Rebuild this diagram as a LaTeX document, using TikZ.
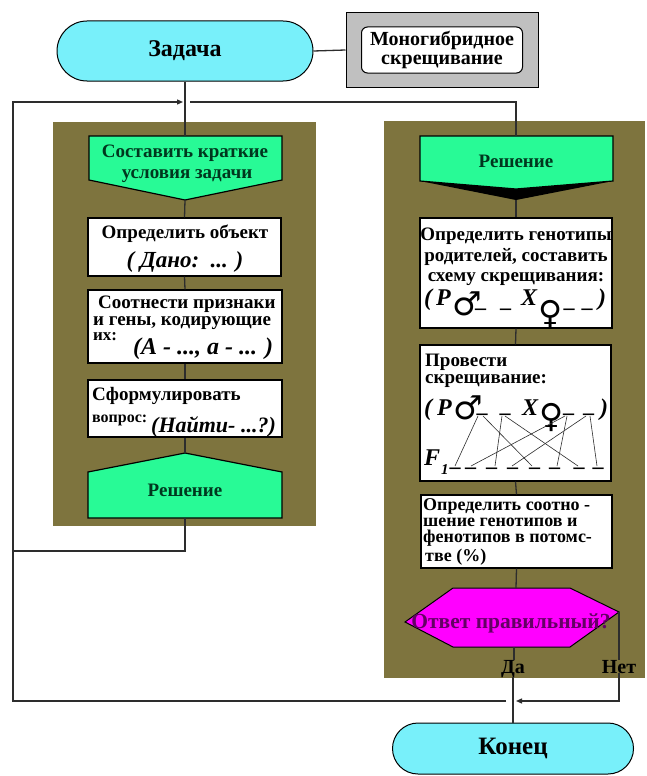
\documentclass[tikz,border=0pt]{standalone}
\usepackage{fontspec}
\setmainfont{Liberation Serif}
\newfontfamily\symfont{DejaVu Sans}
\usetikzlibrary{arrows.meta,shapes.misc}
\definecolor{olivebg}{RGB}{126,116,62}
\definecolor{mint}{RGB}{40,250,150}
\definecolor{cyanfill}{RGB}{120,240,250}
\definecolor{greybox}{RGB}{192,192,192}
\definecolor{lineclr}{RGB}{45,45,45}
\definecolor{dkgreen}{RGB}{0,55,30}
\definecolor{dkpurple}{RGB}{100,0,100}
\definecolor{magentafill}{RGB}{255,0,255}
\tikzset{
 conn/.style={draw=lineclr, line width=1.3pt},
 arr/.style={conn, -{Triangle[length=6pt,width=5pt]}},
 term/.style={rounded rectangle, draw=black, line width=1pt, fill=cyanfill, inner sep=0pt},
 wbox/.style={draw=black, line width=1.2pt, fill=white, inner sep=0pt},
 gshape/.style={draw=black, line width=1.2pt, fill=mint},
 panel/.style={fill=olivebg, inner sep=0pt},
 txt/.style={anchor=base, inner sep=0pt, font=\fontsize{19}{19}\selectfont\bfseries},
 ltxt/.style={anchor=base west, inner sep=0pt, font=\fontsize{19}{19}\selectfont\bfseries},
 ctxt/.style={anchor=base west, inner sep=0pt, font=\fontsize{18}{18}\selectfont\bfseries},
 itx/.style={anchor=base west, inner sep=0pt, font=\fontsize{24}{24}\selectfont\bfseries\itshape},
 sym/.style={anchor=center, inner sep=0pt, font=\symfont\fontsize{33}{33}\selectfont},
 dsh/.style={anchor=base, inner sep=0pt, font=\fontsize{22}{22}\selectfont\bfseries},
 cross/.style={draw=lineclr, line width=0.6pt},
}
\begin{document}
\begin{tikzpicture}[x=1pt,y=-1pt]
\useasboundingbox (0,0) rectangle (646,776);
\fill[white] (0,0) rectangle (646,776);

% panels
\node[panel, minimum width=263pt, minimum height=404pt] (panL) at (184.5,324) {};
\node[panel, minimum width=261pt, minimum height=557pt] (panR) at (514.5,399.5) {};

% start and title
\node[term, minimum width=256pt, minimum height=60pt, font=\fontsize{24}{24}\selectfont\bfseries] (start) at (185,51) {Задача};
\node[draw=black, line width=1pt, fill=greybox, minimum width=192pt, minimum height=74pt] (grey) at (442,50) {};
\node[draw=black, line width=1pt, fill=white, rounded corners=6pt, minimum width=161pt, minimum height=46pt, inner sep=0pt, align=center, font=\fontsize{20}{19}\selectfont\bfseries] (mono) at (442,50) {Моногибридное\\скрещивание};
\draw[conn] (start.east) -- (grey.west);

% left column
\coordinate (condT) at (185,136);
\coordinate (condB) at (185,200);
\filldraw[gshape] (89,136) -- (282,136) -- (282,180) -- (condB) -- (89,180) -- cycle;
\node[txt, text=dkgreen] (cond1) at (185,157) {Составить краткие};
\node[txt, text=dkgreen] (cond2) at (187,178) {условия задачи};

\node[wbox, minimum width=193pt, minimum height=58pt] (b1) at (184.5,247) {};
\node[txt] (b1a) at (185,238) {Определить объект};
\node[txt, font=\fontsize{23}{23}\selectfont\bfseries\itshape] (b1b) at (185,267) {( Дано:\ \ ... )};

\node[wbox, minimum width=194pt, minimum height=73pt] (b2) at (185,326.5) {};
\node[ltxt] (b2a) at (98,308) {Соотнести признаки};
\node[ltxt] (b2b) at (93,325) {и гены, кодирующие};
\node[ltxt, font=\fontsize{17}{17}\selectfont\bfseries] (b2c) at (93,340) {их:};
\node[itx, font=\fontsize{24}{24}\selectfont\bfseries\itshape] (b2d) at (133,354) {(A - ..., a - ... )};

\node[wbox, minimum width=194pt, minimum height=57pt] (b3) at (185,408.5) {};
\node[ltxt] (b3a) at (92,400) {Сформулировать};
\node[ltxt, font=\fontsize{16}{16}\selectfont\bfseries] (b3b) at (92,422) {вопрос:};
\node[itx, font=\fontsize{22}{22}\selectfont\bfseries\itshape] (b3c) at (151,432) {(Найти- ...?)};

\coordinate (solLT) at (185,453);
\coordinate (solLB) at (185,518);
\filldraw[gshape] (88,472) -- (solLT) -- (282,472) -- (282,518) -- (88,518) -- cycle;
\node[txt, text=dkgreen] (solL) at (185,496) {Решение};

\draw[conn] (start.south) -- (condT);
\draw[conn] (condB) -- (b1.north);
\draw[conn] (b1.south) -- (b2.north);
\draw[conn] (b2.south) -- (b3.north);
\draw[conn] (b3.south) -- (solLT);
\coordinate (lb) at (13,551);
\draw[conn] (solLB) |- (lb);

% right column
\coordinate (solRT) at (516,136);
\coordinate (solRB) at (516,200);
\fill[black] (420,181) -- (613,181) -- (solRB) -- cycle;
\filldraw[gshape] (420,136) -- (613,136) -- (613,181) -- (516,189) -- (420,181) -- cycle;
\node[txt, text=dkgreen] (solR) at (516,167) {Решение};

\node[wbox, minimum width=192pt, minimum height=110pt] (bA) at (516,273) {};
\node[txt] (bA1) at (516,240) {Определить генотипы};
\node[txt] (bA2) at (516,261) {родителей, составить};
\node[txt] (bA3) at (516,281) {схему скрещивания:};
\node[itx] (pA1) at (424,305) {(};
\node[itx] (pA2) at (436,305) {P};
\node[sym] (maleA) at (467,303.5) {♂};
\node[dsh] (dA1) at (480.5,307) {\_};
\node[dsh] (dA2) at (505.5,307) {\_};
\node[itx] (pA3) at (521,305) {X};
\node[sym] (femA) at (550.5,314) {♀};
\node[dsh] (dA3) at (569,307) {\_};
\node[dsh] (dA4) at (587,307) {\_};
\node[itx] (pA4) at (598,305) {)};

\node[wbox, minimum width=191pt, minimum height=136pt] (bB) at (515.5,413) {};
\node[ltxt] (bB1) at (425,366) {Провести};
\node[ltxt] (bB2) at (425,383) {скрещивание:};
\node[itx] (pB1) at (424,415) {(};
\node[itx] (pB2) at (437,415) {P};
\node[sym] (maleB) at (468,407.5) {♂};
\node[dsh] (dB1) at (482,412) {\_};
\node[dsh] (dB2) at (505,412) {\_};
\node[itx] (pB3) at (522,415) {X};
\node[sym] (femB) at (552,417.5) {♀};
\node[dsh] (dB3) at (568.5,412) {\_};
\node[dsh] (dB4) at (588.5,412) {\_};
\node[itx] (pB4) at (600,415) {)};
\node[itx] (fF) at (424,465) {F};
\node[anchor=base west, inner sep=0pt, font=\fontsize{15}{15}\selectfont\bfseries\itshape] (fOne) at (441,474) {1};
\foreach \x [count=\i] in {455,470.5,491.5,512.5,534.5,554.5,579,598}
  \node[dsh] (o\i) at (\x,466) {\_};
\draw[cross] (478,416) -- (455,466);
\draw[cross] (483,416) -- (532,466);
\draw[cross] (502,416) -- (495,466);
\draw[cross] (505,416) -- (578,466);
\draw[cross] (565,416) -- (471,466);
\draw[cross] (567,416) -- (557,466);
\draw[cross] (586,416) -- (512,466);
\draw[cross] (590,416) -- (597,466);

\node[wbox, minimum width=191pt, minimum height=73pt] (bC) at (516.5,531.5) {};
\node[ctxt] (bC1) at (423,510) {Определить соотно -};
\node[ctxt] (bC2) at (423,526) {шение генотипов и};
\node[ctxt] (bC3) at (423,542.5) {фенотипов в потомс-};
\node[ctxt] (bC4) at (425,561) {тве (\%)};

\coordinate (hexT) at (516,588);
\coordinate (hexB) at (514,647);
\coordinate (hexR) at (619,612);
\filldraw[draw=black, line width=1pt, fill=magentafill] (453,588) -- (570,588) -- (hexR) -- (570,647) -- (453,647) -- (405,622) -- cycle;
\node[txt, text=dkpurple, font=\fontsize{21.5}{21}\selectfont\bfseries] (ans) at (511,628) {Ответ правильный?};

\node[txt, font=\fontsize{20}{20}\selectfont\bfseries] (da) at (513,673) {Да};
\node[txt, font=\fontsize{20}{20}\selectfont\bfseries] (net) at (619,673) {Нет};

\node[term, minimum width=241pt, minimum height=51pt, font=\fontsize{25}{25}\selectfont\bfseries] (konec) at (513,748.5) {Конец};

\draw[conn] (solRB) -- (bA.north);
\draw[conn] (bA.south) -- (bB.north);
\draw[conn] (bB.south) -- (bC.north);
\draw[conn] (bC.south) -- (hexT);
\draw[conn] (hexB) -- (hexB |- da.north);
\draw[conn] (da.south) -- (konec.north);
\draw[conn] (hexR) -- (net.north);
\coordinate (mergeB) at (513,701);
\coordinate (lc) at (13,701);
\coordinate (lt) at (13,102);
\coordinate (J) at (185,102);
\draw[arr, shorten >=3pt] (net.south) |- (mergeB);
\draw[arr, shorten <=7pt, shorten >=2pt] (mergeB) -- (lc) -- (lt) -- (J);
\draw[conn, shorten <=5pt] (J) -| (solRT);
\end{tikzpicture}
\end{document}
